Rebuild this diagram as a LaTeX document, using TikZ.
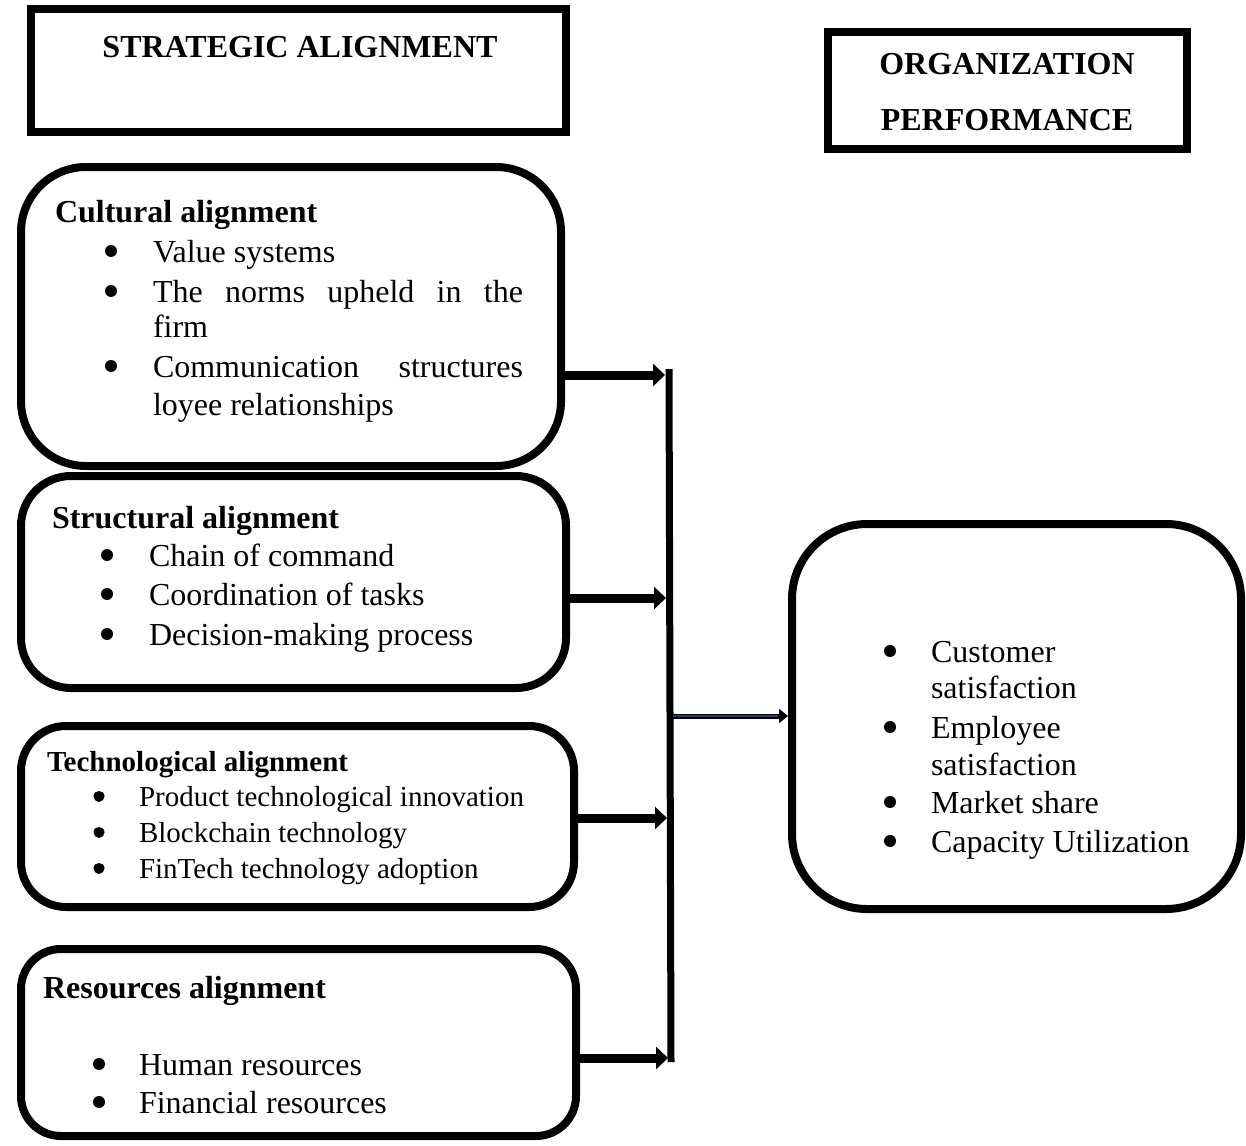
\documentclass[tikz,border=0pt]{standalone}
\usepackage{fontspec}
\setmainfont{Liberation Serif}
\usetikzlibrary{arrows.meta}
\definecolor{navyline}{RGB}{40,55,110}
\begin{document}
\begin{tikzpicture}[x=1pt,y=-1pt,
  every node/.style={inner sep=0pt, outer sep=0pt, font=\fontsize{32}{38}\selectfont},
  sqbox/.style={draw, line width=8pt, rectangle},
  rbox/.style={draw, line width=8pt, rectangle},
  txt/.style={anchor=base west},
  small/.style={font=\fontsize{29}{34}\selectfont},
  dotmark/.style={line width=#1, line cap=round},
  feed/.style={line width=9pt, -{Triangle[length=12pt,width=22pt]}},
  spine/.style={line width=7pt},
  link/.style={line width=5pt, -{Triangle[length=9pt,width=14pt]}}]
\useasboundingbox (0,0) rectangle (1246,1145);

% header boxes
\node[sqbox, minimum width=535pt, minimum height=123pt] (strat) at (298.5,70.5) {};
\node[anchor=base, font=\fontsize{32}{38}\selectfont\bfseries] (stratT) at (300,58) {STRATEGIC ALIGNMENT};

\node[sqbox, minimum width=359pt, minimum height=117pt] (org) at (1007.5,90.5) {};
\node[anchor=base, font=\fontsize{32}{38}\selectfont\bfseries] (orgT1) at (1007,75) {ORGANIZATION};
\node[anchor=base, font=\fontsize{32}{38}\selectfont\bfseries] (orgT2) at (1007,130) {PERFORMANCE};

% cultural
\node[rbox, rounded corners=65pt, minimum width=540pt, minimum height=299pt] (cult) at (291,316.5) {};
\node[txt, font=\fontsize{32}{38}\selectfont\bfseries] (cultH) at (55,222) {Cultural alignment};
\node[txt] (cult1) at (153,262) {Value systems};
\node[txt] (cult2) at (153,302) {\makebox[370pt][s]{The norms upheld in the}};
\node[txt] (cult3) at (153,337) {firm};
\node[txt] (cult4) at (153,377) {\makebox[370pt][s]{Communication structures}};
\node[txt] (cult5) at (153,415) {loyee relationships};

% structural
\node[rbox, rounded corners=50pt, minimum width=545pt, minimum height=212pt] (struc) at (293.5,582) {};
\node[txt, font=\fontsize{32}{38}\selectfont\bfseries] (strucH) at (52,528) {Structural alignment};
\node[txt] (struc1) at (149,566) {Chain of command};
\node[txt] (struc2) at (149,605) {Coordination of tasks};
\node[txt] (struc3) at (149,645) {Decision-making process};

% technological
\node[rbox, rounded corners=45pt, minimum width=553pt, minimum height=181pt] (tech) at (297.5,816.5) {};
\node[txt, font=\fontsize{29}{34}\selectfont\bfseries] (techH) at (47,771) {Technological alignment};
\node[txt, small] (tech1) at (139,806) {Product technological innovation};
\node[txt, small] (tech2) at (139,842) {Blockchain technology};
\node[txt, small] (tech3) at (139,878) {FinTech technology adoption};

% resources
\node[rbox, rounded corners=40pt, minimum width=555pt, minimum height=187pt] (res) at (298.5,1042.5) {};
\node[txt, font=\fontsize{32}{38}\selectfont\bfseries] (resH) at (43,998) {Resources alignment};
\node[txt] (res1) at (139,1075) {Human resources};
\node[txt] (res2) at (139,1113) {Financial resources};

% performance
\node[rbox, rounded corners=75pt, minimum width=449pt, minimum height=385pt] (perf) at (1016.5,716.5) {};
\node[txt] (perf1) at (931,662) {Customer};
\node[txt] (perf2) at (931,698) {satisfaction};
\node[txt] (perf3) at (931,738) {Employee};
\node[txt] (perf4) at (931,775) {satisfaction};
\node[txt] (perf5) at (931,813) {Market share};
\node[txt] (perf6) at (931,852) {Capacity Utilization};

% bullets
\foreach \n/\g in {cult1/42,cult2/42,cult4/42,struc1/42,struc2/42,struc3/42,
                   res1/40,res2/40,perf1/41,perf3/41,perf5/41,perf6/41}
  \draw[dotmark=12pt] ([shift={(-\g,-11)}]\n.base west) -- ++(0.01,0);
\foreach \n in {tech1,tech2,tech3}
  \draw[dotmark=11pt] ([shift={(-40,-10)}]\n.base west) -- ++(0.01,0);

% connectors
\coordinate (vtop) at (669,369);
\coordinate (vbot) at (671,1062);
\coordinate (v1) at (665,375);
\coordinate (v2) at (666,598);
\coordinate (v3) at (667,818);
\coordinate (v4) at (668,1058);
\coordinate (vm) at (673,716);

\draw[spine] (vtop) -- (vbot);
\draw[feed] (cult.east |- v1) -- (v1);
\draw[feed] (struc.east |- v2) -- (v2);
\draw[feed] (tech.east |- v3) -- (v3);
\draw[feed] (res.east |- v4) -- (v4);
\draw[link, shorten >=4pt] (vm) -- (perf.west |- vm);
\draw[line width=2pt, navyline, shorten >=14pt] (vm) -- (perf.west |- vm);
\end{tikzpicture}
\end{document}
